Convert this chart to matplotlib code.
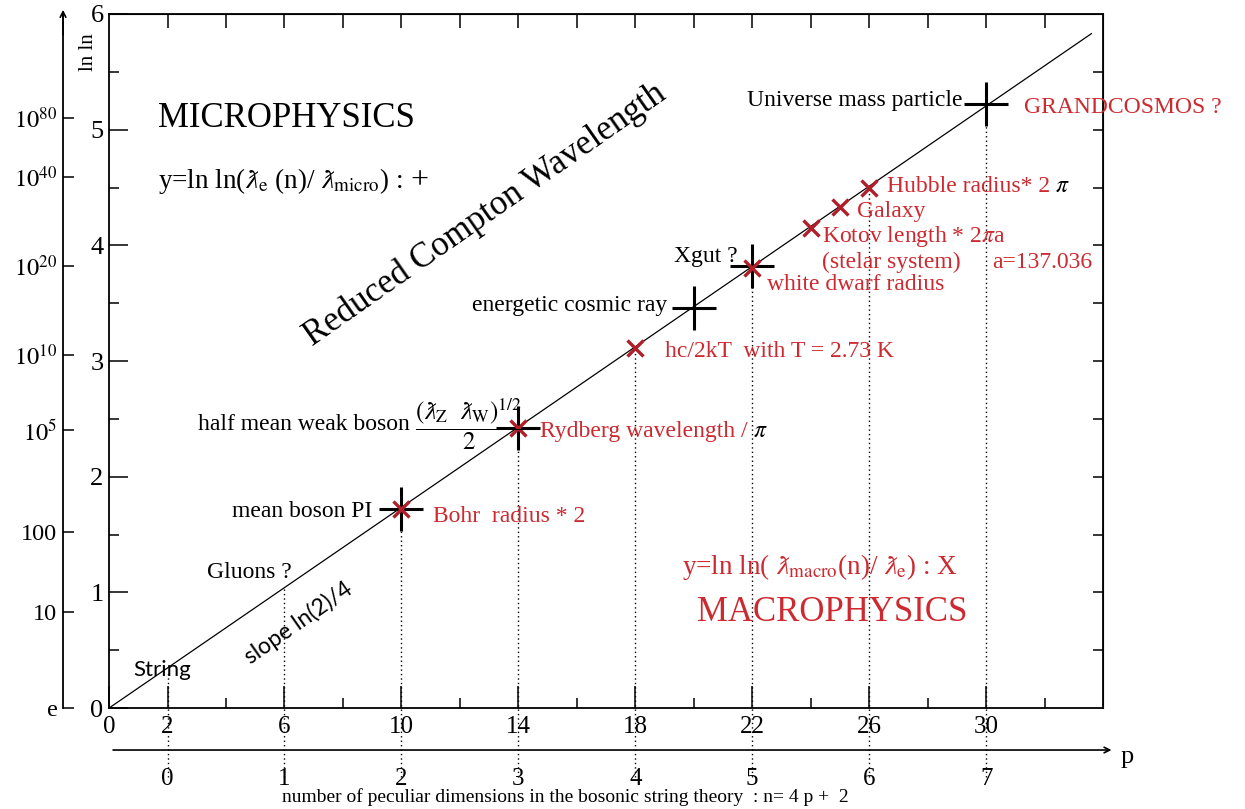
import numpy as np
import matplotlib.pyplot as plt

plt.rcParams['font.family'] = ['Liberation Serif', 'DejaVu Serif']
plt.rcParams['mathtext.fontset'] = 'stix'

# droite y = ln(2)/4 * n (extremites)
line_n = [0, 33.6]
line_y = [0, 5.83]

# points "micro" (+) et "macro" (x)
micro_n = [10, 14, 20, 22, 30]
micro_y = [1.72, 2.42, 3.46, 3.82, 5.22]
macro_n = [10, 14, 18, 22, 24, 25, 26]
macro_y = [1.72, 2.42, 3.11, 3.80, 4.15, 4.33, 4.50]

# lignes pointillees verticales
dot_n = [2, 6, 10, 14, 18, 22, 26, 30]
dot_top = [0.30, 1.04, 1.72, 2.42, 3.11, 3.80, 4.50, 5.20]
dot_bottom = -0.6

n_ticks = [0, 2, 6, 10, 14, 18, 22, 26, 30]
p_ticks = [0, 1, 2, 3, 4, 5, 6, 7]

# axe exterieur (valeur du rapport)
outer_pos = [0, 0.83, 1.52, 2.40, 3.05, 3.82, 4.59, 5.10]
outer_lab = ['e', '10', '100', r'$10^5$', r'$10^{10}$', r'$10^{20}$',
             r'$10^{40}$', r'$10^{80}$']

red = '#cc2a30'
mk_red = '#b01e2a'

fig = plt.figure(figsize=(12.45, 8.09), dpi=100)
ax = fig.add_axes([0.0876, 0.1248, 0.7984, 0.8579])
ax.set_xlim(0, 34)
ax.set_ylim(0, 6)
for s in ax.spines.values():
    s.set_linewidth(1.3)

ax.set_xticks(n_ticks)
ax.set_xticks(range(4, 33, 4), minor=True)
ax.set_yticks(range(0, 7))
ax.set_yticks(np.arange(0.5, 6, 1.0), minor=True)
ax.tick_params(axis='x', which='major', direction='in', length=16, width=1.1,
               labelsize=18, pad=6, top=False)
ax.tick_params(axis='x', which='minor', direction='in', length=7, width=1.1, top=False)
ax.tick_params(axis='y', which='major', direction='in', length=14, width=1.1,
               labelsize=19, pad=4, right=False)
ax.tick_params(axis='y', which='minor', direction='in', length=7, width=1.1, right=False)

# graduations haut et droite
top = ax.secondary_xaxis('top')
top.set_xticks(np.arange(2, 34, 2))
top.set_xticklabels([])
top.tick_params(direction='in', length=10, width=1.1)
right = ax.secondary_yaxis('right')
right.set_yticks(np.arange(0.5, 6, 0.5))
right.set_yticklabels([])
right.tick_params(direction='in', length=7, width=1.1)

# axe exterieur gauche
outer = ax.secondary_yaxis(-0.0463)
outer.set_yticks(outer_pos, outer_lab)
outer.tick_params(direction='in', length=8, width=1.1, labelsize=17.5, pad=4)
outer.spines['left'].set_linewidth(1.3)
ax.annotate('', xy=(-0.0463, 1.006), xytext=(-0.0463, 0.97), xycoords='axes fraction',
            arrowprops=dict(arrowstyle='->', lw=1.2, color='black', shrinkA=0, shrinkB=0),
            annotation_clip=False)
ax.text(-0.021, 0.945, 'ln ln', transform=ax.transAxes, rotation=90,
        ha='center', va='center', fontsize=15)

# axe p
pax = ax.secondary_xaxis(-0.0605, functions=(lambda n: (n - 2) / 4, lambda p: 4 * p + 2))
pax.set_xticks(p_ticks)
pax.tick_params(length=0, labelsize=18, pad=13)
pax.spines['bottom'].set_visible(False)
ax.annotate('', xy=(1.0085, -0.0605), xytext=(0.004, -0.0605), xycoords='axes fraction',
            arrowprops=dict(arrowstyle='->', lw=1.2, color='black', shrinkA=0, shrinkB=0),
            annotation_clip=False)
ax.text(1.024, -0.0706, 'p', transform=ax.transAxes, ha='center', va='center', fontsize=19)
ax.text(0.459, -0.128, 'number of peculiar dimensions in the bosonic string theory  : n= 4 p +  2',
        transform=ax.transAxes, ha='center', va='center', fontsize=14)

# trace
ax.vlines(dot_n, dot_bottom, dot_top, colors='black', linestyles=(0, (1, 2.2)),
          lw=1, clip_on=False)
ax.plot(line_n, line_y, color='black', lw=0.9)
ax.plot(micro_n, micro_y, '+', color='black', ms=31, mew=2.2, clip_on=False)
ax.plot(macro_n, macro_y, 'x', color=mk_red, ms=12, mew=2.4)

# textes
ax.text(1.68, 5.10, 'MICROPHYSICS', fontsize=25, va='center')
t = ax.text(1.68, 4.56, r'y=ln ln($\lambdabar_{\rm e}$ (n)/ $\lambdabar_{\rm micro}$) :',
            fontsize=19.5, va='center')
ax.annotate(' +', xy=(1, 0.5), xycoords=t, va='center', fontsize=23)
ax.text(12.86, 4.26, 'Reduced Compton Wavelength', fontsize=25, rotation=35,
        rotation_mode='anchor', ha='center', va='center')
ax.text(29.2, 5.25, 'Universe mass particle', fontsize=17, ha='right', va='center')
ax.text(31.3, 5.19, 'GRANDCOSMOS ?', fontsize=17, color=red, va='center', clip_on=False)
t = ax.text(26.6, 4.51, 'Hubble radius* 2', fontsize=17, color=red, va='center')
ax.annotate(r' $\pi$', xy=(1, 0.5), xycoords=t, va='center', fontsize=17, color='black')
ax.text(25.6, 4.29, 'Galaxy', fontsize=17, color=red, va='center')
ax.text(24.4, 4.08, r'Kotov length * 2$\pi$a', fontsize=17, color=red, va='center')
ax.text(24.4, 3.85, '(stelar system)', fontsize=17, color=red, va='center')
ax.text(30.2, 3.85, 'a=137.036', fontsize=17, color=red, va='center')
ax.text(22.5, 3.66, 'white dwarf radius', fontsize=17, color=red, va='center')
ax.text(21.5, 3.90, 'Xgut ?', fontsize=17, ha='right', va='center')
ax.text(19.1, 3.48, 'energetic cosmic ray', fontsize=17, ha='right', va='center')
ax.text(19.0, 3.08, 'hc/2kT  with T = 2.73 K', fontsize=17, color=red, va='center')
ax.text(10.3, 2.45, 'half mean weak boson', fontsize=17, ha='right', va='center')
ax.text(10.45, 2.45, r'$\dfrac{(\lambdabar_{\rm Z}\ \ \lambdabar_{\rm W})^{1/2}}{2}$',
        fontsize=18, ha='left', va='center')
t = ax.text(14.74, 2.39, 'Rydberg wavelength /', fontsize=17, color=red, va='center')
ax.annotate(r' $\pi$', xy=(1, 0.5), xycoords=t, va='center', fontsize=17, color='black')
ax.text(9.0, 1.70, 'mean boson PI', fontsize=17, ha='right', va='center')
ax.text(11.08, 1.66, 'Bohr  radius * 2', fontsize=17, color=red, va='center')
ax.text(3.35, 1.17, 'Gluons ?', fontsize=17, va='center')
ax.text(6.46, 0.74, 'slope ln(2)/4', family='Lato', fontsize=16.5, rotation=35,
        rotation_mode='anchor', ha='center', va='center')
ax.text(0.82, 0.33, 'String', family='Lato', fontsize=16, va='center')
ax.text(19.6, 1.22, r'y=ln ln( $\lambdabar_{\rm macro}$(n)/ $\lambdabar_{\rm e}$) : X',
        fontsize=19.5, color=red, va='center')
ax.text(20.1, 0.83, 'MACROPHYSICS', fontsize=25, color=red, va='center')

fig.savefig('out.png', dpi=100)
